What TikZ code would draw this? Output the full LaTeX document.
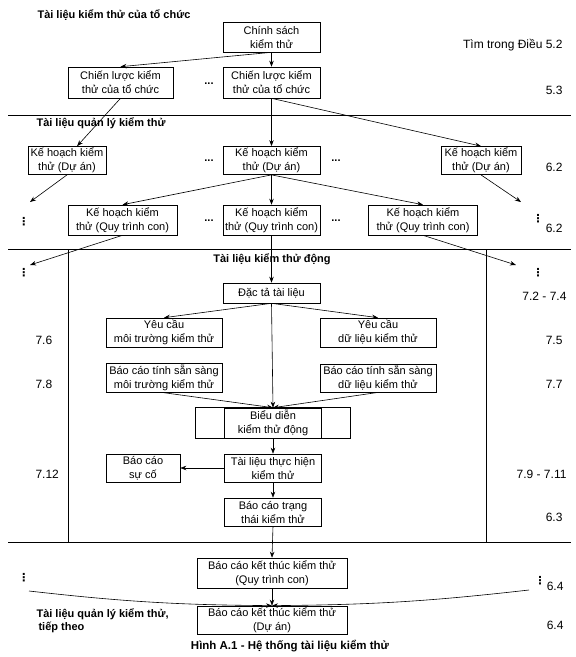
\documentclass[tikz,border=0pt]{standalone}
\usepackage{fontspec}
\setmainfont{Liberation Sans}
\newfontfamily\symfont{DejaVu Sans}
\usepackage{amsmath,amssymb}
\usetikzlibrary{positioning}
\usetikzlibrary{arrows, arrows.meta, shapes, calc}
\tikzstyle{doc} = [rectangle, draw=black, line width=0.6pt, align=center, inner sep=1.5pt, font=\fontsize{11}{14}\selectfont]
\tikzstyle{mid} = [doc, minimum width=97pt, minimum height=30pt]
\tikzstyle{arrow} = [line width=0.6pt,->,>={Stealth[length=6pt,width=4.5pt]}]
\tikzstyle{band} = [line width=0.8pt]
\tikzstyle{clause} = [anchor=east, font=\fontsize{12}{14}\selectfont]
\tikzstyle{lclause} = [anchor=west, font=\fontsize{12}{14}\selectfont]
\tikzstyle{ttl} = [anchor=west, align=left, font=\bfseries\fontsize{11}{13}\selectfont]
\tikzstyle{hdot} = [font=\bfseries\fontsize{11}{13}\selectfont]
\tikzstyle{vdot} = [inner sep=1pt, font=\symfont\bfseries\fontsize{11}{13}\selectfont]

\begin{document}
\begin{tikzpicture}[x=1pt,y=-1pt]
\useasboundingbox (0,0) rectangle (576,657);
% section titles
\node[ttl] (torg) at (34,15) {Tài liệu kiểm thử của tổ chức};
\node[ttl] (tmgmt) at (33,123) {Tài liệu quản lý kiểm thử};
\node[ttl, anchor=center] (tdyn) at (272,259) {Tài liệu kiểm thử động};
\node[ttl] (tmgmt2) at (33,621) {Tài liệu quản lý kiểm thử,\\\hspace{2pt}tiếp theo};
\node[font=\bfseries\fontsize{11.5}{13}\selectfont] (cap) at (290,646) {Hình A.1 - Hệ thống tài liệu kiểm thử};
% organisational documents
\node[mid] (policy) at (271.5,37) {Chính sách\\kiểm thử};
\node[doc, minimum width=105pt, minimum height=31pt] (strat1) at (120.5,82.5) {Chiến lược kiểm\\thử của tổ chức};
\node[mid, minimum height=31pt] (strat2) at (271.5,82.5) {Chiến lược kiểm\\thử của tổ chức};
\node[hdot] (d1) at (209,84) {...};
% test management documents
\node[doc, minimum width=78pt, minimum height=27pt] (plan1) at (67,160.5) {Kế hoạch kiểm\\thử (Dự án)};
\node[mid, minimum height=27pt] (plan2) at (271.5,160.5) {Kế hoạch kiểm\\thử (Dự án)};
\node[doc, minimum width=80pt, minimum height=27pt] (plan3) at (481,160.5) {Kế hoạch kiểm\\thử (Dự án)};
\node[hdot] (d2) at (209,161) {...};
\node[hdot] (d3) at (336,161) {...};
\node[doc, minimum width=109pt, minimum height=30pt] (sub1) at (122.5,220) {Kế hoạch kiểm\\thử (Quy trình con)};
\node[mid] (sub2) at (271.5,220) {Kế hoạch kiểm\\thử (Quy trình con)};
\node[doc, minimum width=109pt, minimum height=30pt] (sub3) at (423,220) {Kế hoạch kiểm\\thử (Quy trình con)};
\node[hdot] (d4) at (209,221) {...};
\node[hdot] (d5) at (336,221) {...};
\node[vdot] (v1) at (24,222) {⋮};
\node[vdot] (v2) at (538,219) {⋮};
\node[vdot] (v3) at (24,273) {⋮};
\node[vdot] (v4) at (538,273) {⋮};
\coordinate (e1) at (30,202);
\coordinate (e2) at (521,202);
\coordinate (e3) at (30,265);
\coordinate (e4) at (516,265);
% dynamic test documents
\node[mid, minimum height=20pt] (spec) at (271.5,293) {Đặc tả tài liệu};
\node[doc, minimum width=116pt, minimum height=29pt] (req1) at (164,332.5) {Yêu cầu\\môi trường kiểm thử};
\node[doc, minimum width=116pt, minimum height=29pt] (req2) at (378,332.5) {Yêu cầu\\dữ liệu kiểm thử};
\node[doc, minimum width=116pt, minimum height=28pt] (rdy1) at (164,378) {Báo cáo tính sẵn sàng\\môi trường kiểm thử};
\node[doc, minimum width=116pt, minimum height=28pt] (rdy2) at (378,378) {Báo cáo tính sẵn sàng\\dữ liệu kiểm thử};
\node[mid] (perf) at (273,423) {Biểu diễn\\kiểm thử động};
\draw[line width=0.6pt] ([xshift=-29pt]perf.south west) rectangle ([xshift=28pt]perf.north east);
\node[mid, minimum height=28pt] (log) at (273,468) {Tài liệu thực hiện\\kiểm thử};
\node[doc, minimum width=74pt, minimum height=28pt] (inc) at (143,468) {Báo cáo\\sự cố};
\node[mid, minimum height=28pt] (stat) at (273,512) {Báo cáo trạng\\thái kiểm thử};
% completion reports
\node[doc, minimum width=150pt, minimum height=30pt] (compl1) at (272,573) {Báo cáo kết thúc kiểm thử\\(Quy trình con)};
\node[doc, minimum width=150pt, minimum height=28pt] (compl2) at (272,620) {Báo cáo kết thúc kiểm thử\\(Dự án)};
\node[vdot] (v5) at (24,578) {⋮};
\node[vdot] (v6) at (540,581) {⋮};
\coordinate (e5) at (29,591);
\coordinate (e6) at (529,590);
% clause numbers
\node[clause] (c1) at (566,45) {Tìm trong Điều 5.2};
\node[clause] (c2) at (566,90) {5.3};
\node[clause] (c3) at (566,167) {6.2};
\node[clause] (c4) at (566,228) {6.2};
\node[clause] (c5) at (570,296) {7.2 - 7.4};
\node[clause] (c6) at (566,340) {7.5};
\node[clause] (c7) at (566,384) {7.7};
\node[clause] (c8) at (570,474) {7.9 - 7.11};
\node[clause] (c9) at (566,517) {6.3};
\node[clause] (c10) at (567,586) {6.4};
\node[clause] (c11) at (567,625) {6.4};
\node[lclause] (c12) at (32,340) {7.6};
\node[lclause] (c13) at (32,384) {7.8};
\node[lclause] (c14) at (32,474) {7.12};
% separators
\draw[band] (8,115) -- (571,115);
\draw[band] (8,249) -- (571,249);
\draw[band] (8,542) -- (571,542);
\draw[band] (68,249) -- (68,542);
\draw[band] (486,249) -- (486,542);
% connectors
\draw[arrow] (policy.south) -- (strat1.north);
\draw[arrow] (policy.south) -- (strat2.north);
\draw[arrow] (strat1.south) -- (plan1.55);
\draw[arrow] (strat2.south) -- (plan2.north);
\draw[arrow] (strat2.south) -- (plan3.north);
\draw[arrow] (plan1.south) -- (e1);
\draw[arrow] (plan3.south) -- (e2);
\draw[arrow] (plan2.south) -- (sub1.north);
\draw[arrow] (plan2.south) -- (sub2.north);
\draw[arrow] (plan2.south) -- (sub3.north);
\draw[arrow] (sub1.south) -- (e3);
\draw[arrow] (sub3.south) -- (e4);
\draw[arrow] (sub2.south) -- (spec.north);
\draw[arrow] (spec.south) -- (req1.north);
\draw[arrow] (spec.south) -- (req2.north);
\draw[arrow] (spec.south) -- (perf.north);
\draw[arrow] (rdy1.south) -- (perf.north);
\draw[arrow] (rdy2.south) -- (perf.north);
\draw[arrow] (perf.south) -- (log.north);
\draw[arrow] (log.west) -- (inc.east);
\draw[arrow] (log.south) -- (stat.north);
\draw[arrow] (stat.south) -- (compl1.north);
\draw[arrow] (compl1.south) -- (compl2.north);
\draw[arrow] (e5) to[bend right=3] (compl2.north);
\draw[arrow] (e6) to[bend left=3] (compl2.north);
\end{tikzpicture}
\end{document}
